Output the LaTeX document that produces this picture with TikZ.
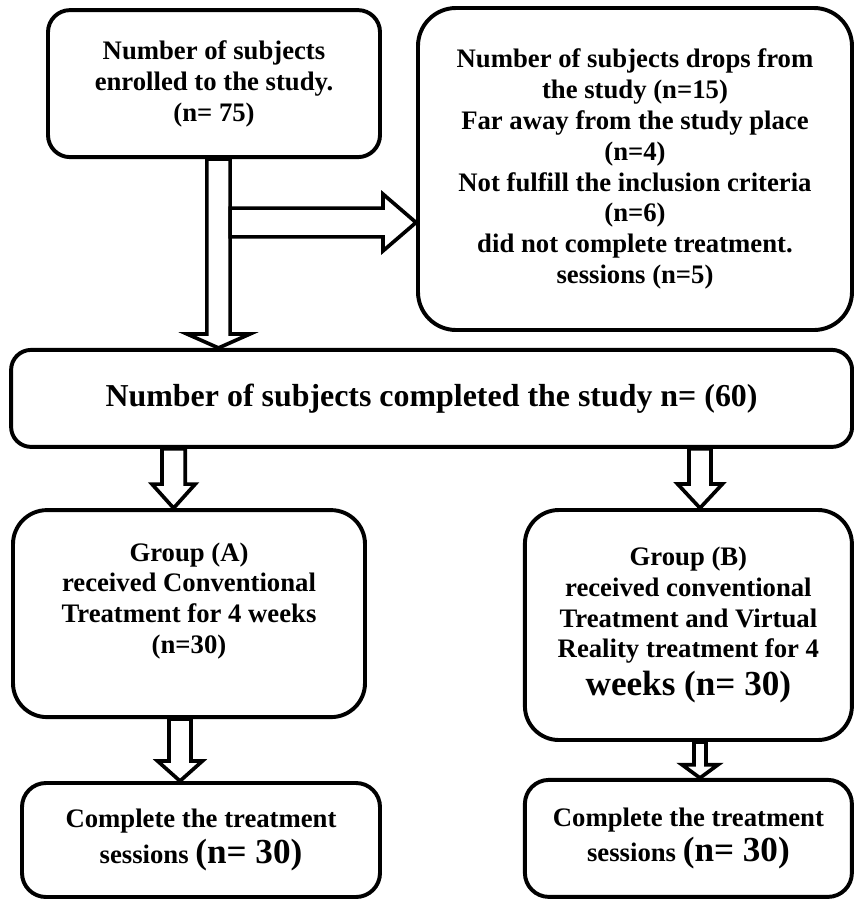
\documentclass[tikz,border=0pt]{standalone}
\usepackage{fontspec}
\setmainfont{Liberation Serif}
\usepackage{tikz}
\usetikzlibrary{calc, positioning}

% hollow block arrow pointing down: x, from node, to node, shaft half width, head half width, head length
\newcommand{\downblock}[6]{%
	\coordinate (bt) at (#1,0 |- #2.south);
	\coordinate (bp) at (#1,0 |- #3.north);
	\draw[hollow] ($(bt)+(-#4,0)$) -- ($(bp)+(-#4,#6)$) -- ($(bp)+(-#5,#6)$) -- (bp)
		-- ($(bp)+(#5,#6)$) -- ($(bp)+(#4,#6)$) -- ($(bt)+(#4,0)$) -- cycle;
}
\newcommand{\bign}{\fontsize{25}{29}\selectfont}

\begin{document}
\begin{tikzpicture}[thick,
		box/.style={draw, line width=2.8pt, align=center, inner sep=2pt, font=\bfseries\fontsize{19}{22}\selectfont},
		hollow/.style={draw, fill=white, line width=2.6pt, line join=miter}]
		\useasboundingbox (0,0) rectangle (21.35,-22.475);

		\node[box, rounded corners=0.55cm, minimum width=8.3cm, minimum height=3.675cm] (enrol) at (5.35,-2.09) {Number of subjects\\ enrolled to the study.\\ (n= 75)};
		\node[box, rounded corners=0.95cm, minimum width=10.85cm, minimum height=8.05cm] (drop) at (15.875,-4.225) {Number of subjects drops from\\ the study (n=15)\\ Far away from the study place\\ (n=4)\\ Not fulfill the inclusion criteria\\ (n=6)\\ did not complete treatment.\\ sessions (n=5)};
		\node[box, rounded corners=0.5cm, minimum width=21.025cm, minimum height=2.425cm, font=\bfseries\fontsize{22.7}{26}\selectfont] (done) at (10.79,-9.96) {Number of subjects completed the study n= (60)};

		\node[box, rounded corners=0.85cm, minimum width=8.8cm, minimum height=5.175cm] (grpA) at (4.725,-15.34) {Group (A)\\ received Conventional\\ Treatment for 4 weeks\\ (n=30)\\ \mbox{}};
		\node[box, rounded corners=0.85cm, minimum width=8.175cm, minimum height=5.75cm] (grpB) at (17.21,-15.625) {Group (B)\\ received conventional\\ Treatment and Virtual\\ Reality treatment for 4\\[5pt] {\bign weeks (n= 30)}};

		\node[box, rounded corners=0.6cm, minimum width=8.95cm, minimum height=2.85cm] (fullA) at (5.025,-21.0) {Complete the treatment\\[3pt] sessions {\bign (n= 30)}};
		\node[box, rounded corners=0.6cm, minimum width=8.175cm, minimum height=2.925cm] (fullB) at (17.21,-20.96) {Complete the treatment\\[3pt] sessions {\bign (n= 30)}};

		\downblock{5.4625}{enrol}{done}{0.29}{0.79}{0.35}

		\coordinate (split) at (5.7525,-5.5625);
		\coordinate (tipR) at (drop.west |- split);
		\draw[hollow] ($(split)+(0,0.36)$) -- ($(tipR)+(-0.825,0.36)$) -- ($(tipR)+(-0.825,0.71)$) -- (tipR)
			-- ($(tipR)+(-0.825,-0.71)$) -- ($(tipR)+(-0.825,-0.36)$) -- ($(split)+(0,-0.36)$) -- cycle;

		\downblock{4.34}{done}{grpA}{0.29}{0.54}{0.6}
		\downblock{17.5}{done}{grpB}{0.275}{0.56}{0.6}
		\downblock{4.5}{grpA}{fullA}{0.275}{0.56}{0.5}
		\downblock{17.5}{grpB}{fullB}{0.15}{0.45}{0.33}

	\end{tikzpicture}
\end{document}
